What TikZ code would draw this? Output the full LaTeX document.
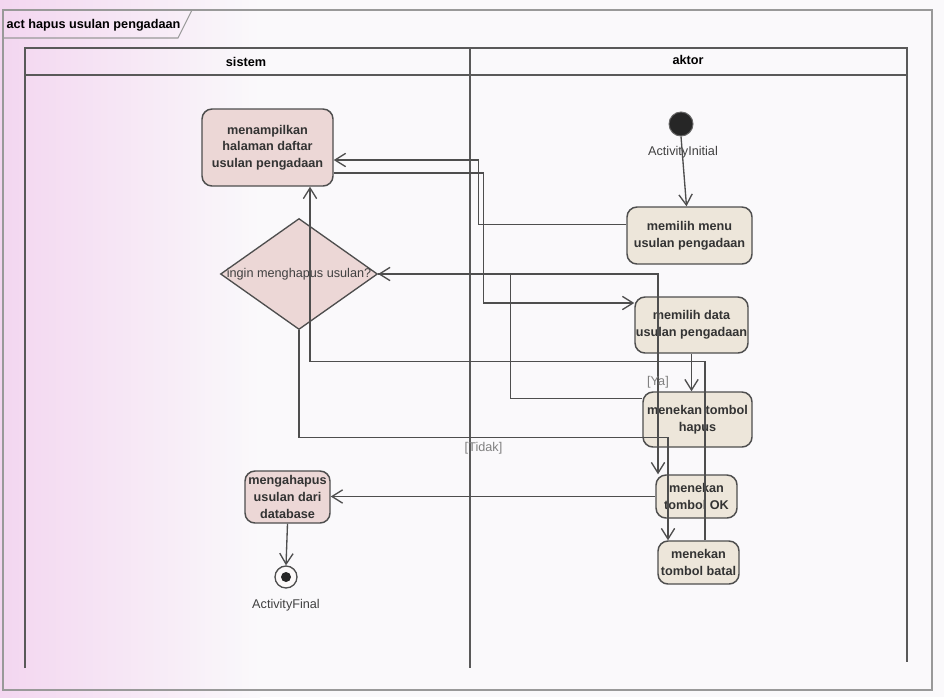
\documentclass[tikz,border=0pt]{standalone}
\usepackage{fontspec}
\setmainfont{Liberation Sans}
\usetikzlibrary{arrows.meta,shapes.geometric,calc}

\definecolor{sysfill}{RGB}{236,215,214}
\definecolor{actfill}{RGB}{237,230,218}
\definecolor{edgegray}{RGB}{78,78,78}
\definecolor{paper}{RGB}{250,249,251}
\definecolor{scanpink}{RGB}{243,214,240}

\tikzset{every picture/.style={line width=0.75pt}}
\tikzset{
  action/.style={draw=edgegray, line width=1.1pt, rounded corners=7.5pt, inner sep=0pt, align=center,
    font=\bfseries\fontsize{9.5}{12.5}\selectfont, text=black!80},
  sysact/.style={action, fill=sysfill},
  usract/.style={action, fill=actfill},
  decision/.style={diamond, draw=edgegray, line width=1pt, fill=sysfill, inner sep=0pt,
    minimum width=117.75pt, minimum height=83.25pt},
  flow/.style={draw=edgegray, line width=1pt, -{Straight Barb[length=8pt,width=10pt]}},
  wire/.style={draw=edgegray, line width=1pt},
  lane/.style={draw=black!65, line width=0.9pt},
  guard/.style={font=\fontsize{9.5}{11}\selectfont, text=black!50, inner sep=1pt},
  caption/.style={font=\fontsize{9.5}{11}\selectfont, text=black!75, inner sep=0.75pt},
}

\begin{document}
\begin{tikzpicture}[x=0.75pt,y=0.75pt,yscale=-1,xscale=1]
\useasboundingbox (0,0) rectangle (944,697);

%Background
\fill[paper] (0,0) rectangle (944,697);
\shade[left color=scanpink, right color=paper] (0,0) rectangle (260,697);

%Shape: Frame
\draw [draw=black!40, line width=0.8pt] (3,10) rectangle (932,690);
\draw [draw=black!40, line width=0.8pt] (3,38) -- (178,38) -- (192,10);
% Text Node
\node [anchor=west, inner sep=0.75pt, font=\bfseries\fontsize{9.5}{11}\selectfont] (title) at (5,25) {act hapus usulan pengadaan};

%Shape: Swimlanes
\draw [lane] (25,668) -- (25,48) -- (907,48) -- (907,662);
\draw [lane] (25,75) -- (907,75);
\draw [lane] (470,48) -- (470,668);
% Text Node
\node [font=\bfseries\fontsize{9.5}{11}\selectfont] (sistemlbl) at (246,62) {sistem};
% Text Node
\node [font=\bfseries\fontsize{9.5}{11}\selectfont] (aktorlbl) at (688,60) {aktor};

%Initial and final
\node [circle, fill=black!85, draw=black!60, minimum size=18pt, inner sep=0pt] (start) at (681,124) {};
\node [caption] (startlbl) at (683,152) {ActivityInitial};
\node [circle, fill=white!85!sysfill, draw=edgegray, line width=1pt, minimum size=16.5pt, inner sep=0pt] (stop) at (286,577) {};
\fill [black!85] (stop.center) circle (5);
\node [caption] (stoplbl) at (286,605) {ActivityFinal};

%Actions: sistem
\node [sysact, minimum width=98.25pt, minimum height=57.75pt] (tampil) at (267.5,147.5) {menampilkan\\halaman daftar\\usulan pengadaan};
\node [decision, label={[font=\fontsize{9.5}{11}\selectfont, text=black!75]center:ingin menghapus usulan?}] (tanya) at (299,274) {};
\node [sysact, minimum width=63.75pt, minimum height=39pt] (hapusdb) at (287.5,497) {mengahapus\\usulan dari\\database};

%Actions: aktor
\node [usract, minimum width=93.75pt, minimum height=42.75pt] (pilihmenu) at (689.5,235.5) {memilih menu\\usulan pengadaan};
\node [usract, minimum width=84.75pt, minimum height=42pt] (pilihdata) at (691.5,325) {memilih data\\usulan pengadaan};
\node [usract, minimum width=81.75pt, minimum height=41.25pt] (tekanhapus) at (697.5,419.5) {menekan tombol\\hapus};
\node [usract, minimum width=60.75pt, minimum height=32.25pt] (tekanok) at (696.5,496.5) {menekan\\tombol OK};
\node [usract, minimum width=60.75pt, minimum height=32.25pt] (tekanbatal) at (698.5,562.5) {menekan\\tombol batal};

%Flows
\draw [flow] (start.south) -- ($(pilihmenu.north)+(-3,0)$);
\draw [flow] ($(pilihmenu.west)+(0,-11)$) -- ++(-148,0) |- ($(tampil.east)+(0,12.5)$);
\draw [flow] ($(tampil.east)+(0,25.5)$) -- ++(150,0) |- ($(pilihdata.west)+(0,-22)$);
\draw [flow] (pilihdata.south) -- (pilihdata.south |- tekanhapus.north);
\draw [flow] ($(tekanhapus.west)+(0,-21)$) -- ++(-132,0) |- (tanya.east);
\draw [flow] (tanya.east) -| ($(tekanok.north)+(-38.5,0)$) node [guard, pos=0.77] (ya) {[Ya]};
\draw [flow] (tanya.south) -- ++(0,107) -| ($(tekanbatal.north)+(-30.5,0)$) node [guard, pos=0.25, below=2pt] (tidak) {[Tidak]};
\draw [flow] ($(tekanbatal.north)+(6.5,0)$) -- ++(0,-179) -| ($(tampil.south)+(42.5,0)$);
\draw [flow] (tekanok.west) -- (tekanok.west -| hapusdb.east);
\draw [flow] (hapusdb.south) -- (stop.north);

\end{tikzpicture}
\end{document}
